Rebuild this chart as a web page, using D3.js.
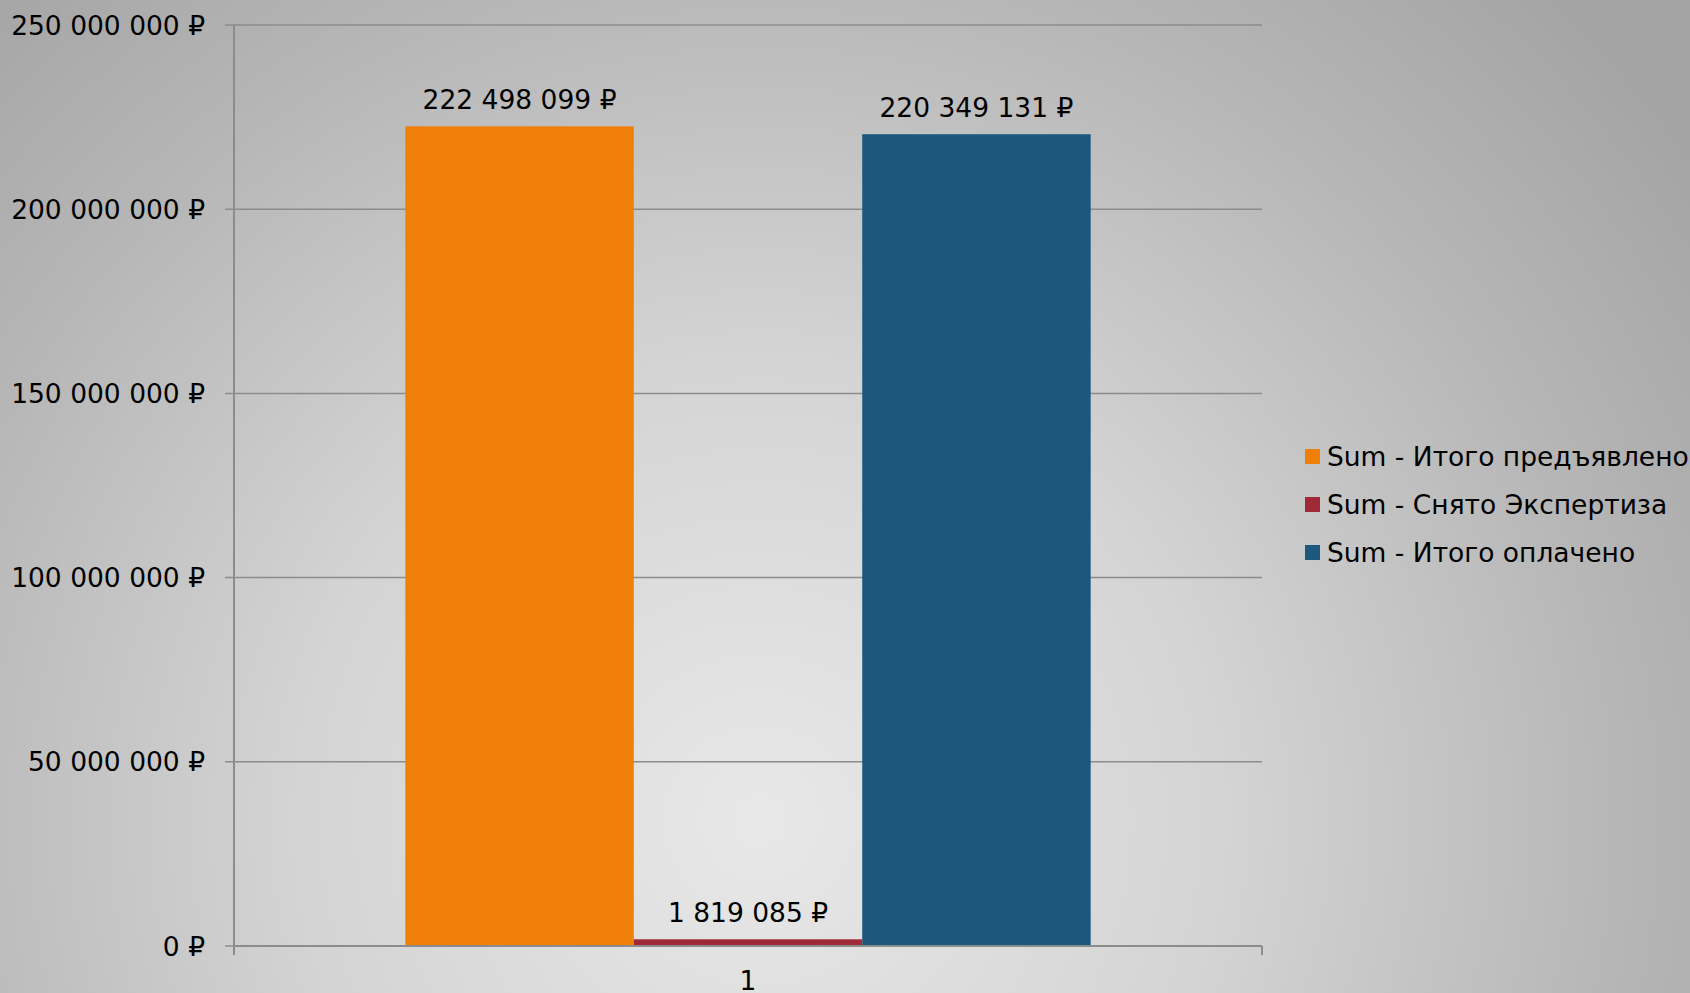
<!DOCTYPE html>
<html>
<head>
<meta charset="utf-8">
<script src="https://cdn.jsdelivr.net/npm/d3@7"></script>
<style>
  html, body { margin: 0; padding: 0; overflow: hidden; }
  text { font-family: "DejaVu Sans", Verdana, sans-serif; }
</style>
</head>
<body>
<div id="chart"></div>
<script>
// data
var categories = ["1"];
var seriesNames = ["Sum - Итого предъявлено", "Sum - Снято Экспертиза", "Sum - Итого оплачено"];
var seriesValues = [222498099, 1819085, 220349131];
var seriesColors = ["#F07F09", "#9F2936", "#1B587C"];
var yTicks = [0, 50000000, 100000000, 150000000, 200000000, 250000000];

var width = 1690, height = 993;
var margin = {top: 25, right: 428, bottom: 47, left: 234};
var plotW = width - margin.left - margin.right,
    plotH = height - margin.top - margin.bottom;

var svg = d3.select("#chart")
    .append("svg")
    .attr("width", width)
    .attr("height", height);

// background gradient
var grad = svg.append("defs").append("radialGradient")
    .attr("id", "bg")
    .attr("gradientUnits", "userSpaceOnUse")
    .attr("cx", 760).attr("cy", 820)
    .attr("r", 1150);
grad.append("stop").attr("offset", "0%").attr("stop-color", "#e8e8e8");
grad.append("stop").attr("offset", "40%").attr("stop-color", "#d4d4d4");
grad.append("stop").attr("offset", "75%").attr("stop-color", "#b6b6b6");
grad.append("stop").attr("offset", "100%").attr("stop-color", "#a4a4a4");
svg.append("rect").attr("width", width).attr("height", height).attr("fill", "url(#bg)");

var g = svg.append("g").attr("transform", "translate(" + margin.left + "," + margin.top + ")");

var fmt = function (v) { return d3.format(",")(v).replace(/,/g, " ") + " ₽"; };

var y = d3.scaleLinear().domain([0, 250000000]).range([plotH, 0]);
var x0 = d3.scaleBand().domain(categories).range([0, plotW]).paddingInner(0).paddingOuter(0.25);
var x1 = d3.scaleBand().domain(seriesNames).range([0, x0.bandwidth()]).padding(0);

// gridlines
g.selectAll("line.grid")
    .data(yTicks)
    .enter()
    .append("line")
    .attr("x1", -9).attr("x2", plotW)
    .attr("y1", function (d) { return y(d); })
    .attr("y2", function (d) { return y(d); })
    .attr("stroke", "#8c8c8c")
    .attr("stroke-width", 1.5);

// y axis labels
g.selectAll("text.ylab")
    .data(yTicks)
    .enter()
    .append("text")
    .attr("x", -29)
    .attr("y", function (d) { return y(d) + 2; })
    .attr("text-anchor", "end")
    .attr("dominant-baseline", "middle")
    .attr("font-size", "26.5px")
    .attr("fill", "#000")
    .text(fmt);

// bars
var groups = g.selectAll("g.cat")
    .data(categories)
    .enter()
    .append("g")
    .attr("transform", function (d) { return "translate(" + x0(d) + ",0)"; });

groups.selectAll("rect")
    .data(seriesValues.map(function (v, i) { return {name: seriesNames[i], value: v, color: seriesColors[i]}; }))
    .enter()
    .append("rect")
    .attr("x", function (d) { return x1(d.name); })
    .attr("y", function (d) { return y(d.value); })
    .attr("width", x1.bandwidth())
    .attr("height", function (d) { return plotH - y(d.value); })
    .attr("fill", function (d) { return d.color; });

groups.selectAll("text.val")
    .data(seriesValues.map(function (v, i) { return {name: seriesNames[i], value: v}; }))
    .enter()
    .append("text")
    .attr("x", function (d) { return x1(d.name) + x1.bandwidth() / 2; })
    .attr("y", function (d) { return y(d.value) - 25; })
    .attr("text-anchor", "middle")
    .attr("dominant-baseline", "middle")
    .attr("font-size", "26.5px")
    .attr("fill", "#000")
    .text(function (d) { return fmt(d.value); });

// axes lines
g.append("line")
    .attr("x1", 0).attr("x2", 0).attr("y1", 0).attr("y2", plotH + 9)
    .attr("stroke", "#8c8c8c").attr("stroke-width", 2);
g.append("line")
    .attr("x1", 0).attr("x2", plotW).attr("y1", plotH).attr("y2", plotH)
    .attr("stroke", "#8c8c8c").attr("stroke-width", 2);
g.append("line")
    .attr("x1", plotW).attr("x2", plotW).attr("y1", plotH).attr("y2", plotH + 9)
    .attr("stroke", "#8c8c8c").attr("stroke-width", 2);

// x labels
g.selectAll("text.xlab")
    .data(categories)
    .enter()
    .append("text")
    .attr("x", function (d) { return x0(d) + x0.bandwidth() / 2; })
    .attr("y", plotH + 36)
    .attr("text-anchor", "middle")
    .attr("dominant-baseline", "middle")
    .attr("font-size", "26.5px")
    .attr("fill", "#000")
    .text(function (d) { return d; });

// legend
var legend = svg.selectAll("g.leg")
    .data(seriesNames)
    .enter()
    .append("g")
    .attr("transform", function (d, i) { return "translate(1305," + (449 + i * 48) + ")"; });
legend.append("rect")
    .attr("width", 15).attr("height", 15)
    .attr("fill", function (d, i) { return seriesColors[i]; });
legend.append("text")
    .attr("x", 22).attr("y", 9)
    .attr("dominant-baseline", "middle")
    .attr("font-size", "26.5px")
    .attr("fill", "#000")
    .text(function (d) { return d; });
</script>
</body>
</html>
